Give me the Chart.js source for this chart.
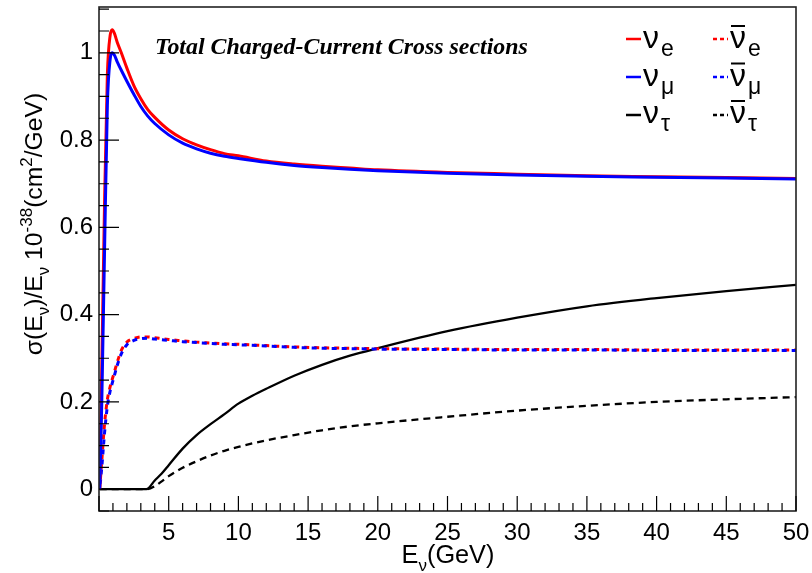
<!DOCTYPE html>
<html>
<head>
<meta charset="utf-8">
<script src="https://cdn.jsdelivr.net/npm/chart.js@4.4.0/dist/chart.umd.min.js"></script>
<style>
  body { margin: 0; background: #fff; }
  #wrap { width: 812px; height: 573px; }
</style>
</head>
<body>
<div id="wrap"><canvas id="xsec" width="812" height="573"></canvas></div>
<script>
// energies (GeV) for the e / mu curves
var energyLight = [0.05, 0.2, 0.4, 0.6, 0.8, 0.95, 1.1, 1.3, 1.6, 2, 2.5, 3, 3.5, 4, 5, 6, 7, 8, 9, 10, 12, 14, 16, 18, 20, 25, 30, 35, 40, 45, 50];
var nueXs     = [0, 0.28, 0.66, 0.95, 1.04, 1.053, 1.045, 1.025, 1.0, 0.965, 0.925, 0.895, 0.87, 0.852, 0.823, 0.803, 0.789, 0.778, 0.769, 0.764, 0.752, 0.745, 0.740, 0.736, 0.732, 0.726, 0.722, 0.718, 0.716, 0.714, 0.712];
var numuXs    = [0, 0.2, 0.55, 0.88, 0.985, 1.0, 0.995, 0.98, 0.96, 0.935, 0.905, 0.877, 0.855, 0.838, 0.812, 0.793, 0.780, 0.770, 0.763, 0.758, 0.749, 0.742, 0.737, 0.733, 0.730, 0.724, 0.720, 0.717, 0.715, 0.713, 0.711];
var nuebarXs  = [0, 0.065, 0.15, 0.205, 0.235, 0.252, 0.268, 0.29, 0.318, 0.337, 0.345, 0.349, 0.349, 0.347, 0.343, 0.340, 0.337, 0.335, 0.333, 0.332, 0.329, 0.326, 0.324, 0.323, 0.322, 0.321, 0.320, 0.320, 0.319, 0.319, 0.319];
var numubarXs = [0, 0.05, 0.13, 0.19, 0.225, 0.243, 0.26, 0.283, 0.31, 0.331, 0.341, 0.345, 0.346, 0.344, 0.341, 0.338, 0.336, 0.334, 0.332, 0.331, 0.328, 0.325, 0.323, 0.322, 0.321, 0.320, 0.319, 0.319, 0.318, 0.318, 0.318];

// tau curves (threshold ~3.4 GeV)
var energyTau   = [0.05, 3.4, 4, 4.5, 5, 6, 7, 8, 9, 10, 11, 12, 14, 16, 18, 20, 25, 30, 35, 40, 45, 50];
var nutauXs     = [0, 0, 0.02, 0.036, 0.055, 0.093, 0.124, 0.149, 0.172, 0.196, 0.214, 0.23, 0.26, 0.285, 0.306, 0.323, 0.362, 0.393, 0.419, 0.438, 0.454, 0.468];
var nutaubarXs  = [0, 0, 0.007, 0.018, 0.03, 0.049, 0.064, 0.077, 0.088, 0.097, 0.105, 0.112, 0.124, 0.135, 0.144, 0.151, 0.166, 0.18, 0.191, 0.2, 0.206, 0.211];

var xTicks = [5, 10, 15, 20, 25, 30, 35, 40, 45, 50];
var yTicks = [0, 0.2, 0.4, 0.6, 0.8, 1];

var titleText = "Total Charged-Current Cross sections";
var legendItems = [
    { sub: "e", color: "#ff0000", bar: false, col: 0, row: 0 },
    { sub: "\u03bc", color: "#0000ff", bar: false, col: 0, row: 1 },
    { sub: "\u03c4", color: "#000000", bar: false, col: 0, row: 2 },
    { sub: "e", color: "#ff0000", bar: true, col: 1, row: 0 },
    { sub: "\u03bc", color: "#0000ff", bar: true, col: 1, row: 1 },
    { sub: "\u03c4", color: "#000000", bar: true, col: 1, row: 2 }
];

function pts(xs, ys) {
    let out = [];
    for (var i = 0; i < xs.length; i++) {
        out.push({ x: xs[i], y: ys[i] });
    }
    return out;
}

function line(data, color, width, dash, offset) {
    return {
        data: data,
        borderColor: color,
        borderWidth: width,
        borderDash: dash || [],
        borderDashOffset: offset || 0,
        pointRadius: 0,
        fill: false,
        cubicInterpolationMode: 'monotone',
    };
}

var FONT = "'Liberation Sans', Arial, sans-serif";

// text pieces with sub/superscripts, left aligned from x
function richWidth(ctx, parts, size) {
    let w = 0;
    parts.forEach(p => {
        ctx.font = (p[1] == 'n' ? size : Math.round(size * 0.68)) + "px " + FONT;
        w += ctx.measureText(p[0]).width;
    });
    return w;
}
function drawRich(ctx, parts, x, y, size) {
    parts.forEach(p => {
        let s = p[1] == 'n' ? size : Math.round(size * 0.68);
        let dy = p[1] == 'sub' ? size * 0.3 : (p[1] == 'sup' ? -size * 0.42 : 0);
        ctx.font = s + "px " + FONT;
        ctx.fillText(p[0], x, y + dy);
        x += ctx.measureText(p[0]).width;
    });
}
function fitSize(ctx, parts, base, target) {
    return base * target / richWidth(ctx, parts, base);
}

var decorPlugin = {
    id: 'decor',
    afterDatasetsDraw(chart) {
        const ctx = chart.ctx;
        const a = chart.chartArea;
        const xs = chart.scales.x, ys = chart.scales.y;
        ctx.save();
        ctx.strokeStyle = "#222";
        ctx.lineWidth = 1.6;
        ctx.strokeRect(a.left, a.top, a.right - a.left, a.bottom - a.top);

        // ROOT style ticks inside the frame
        ctx.strokeStyle = "#000";
        ctx.lineWidth = 1.2;
        ctx.beginPath();
        for (var v = 0; v <= 50.001; v += 1) {
            let px = xs.getPixelForValue(v);
            let len = (Math.round(v) % 5 == 0) ? 15 : 8;
            ctx.moveTo(px, a.bottom);
            ctx.lineTo(px, a.bottom - len);
        }
        for (var k = -1; k <= 22; k++) {
            let val = k * 0.05;
            if (val < ys.min || val > ys.max) continue;
            let py = ys.getPixelForValue(val);
            let len = (k % 4 == 0) ? 20 : 10;
            ctx.moveTo(a.left, py);
            ctx.lineTo(a.left + len, py);
        }
        ctx.stroke();

        // title
        ctx.fillStyle = "#000";
        ctx.textBaseline = "alphabetic";
        ctx.font = "italic bold 21px 'Liberation Serif', 'Times New Roman', serif";
        let tw = ctx.measureText(titleText).width;
        let fs = 21 * 373 / tw;
        ctx.font = "italic bold " + fs.toFixed(1) + "px 'Liberation Serif', 'Times New Roman', serif";
        ctx.fillText(titleText, 155, 54);

        // legend
        legendItems.forEach(it => {
            let x0 = it.col == 0 ? 626 : 713;
            let yl = 39 + it.row * 38;
            let yb = 48 + it.row * 37.5;
            ctx.strokeStyle = it.color;
            ctx.lineWidth = 2.5;
            ctx.setLineDash(it.bar ? [4, 3] : []);
            ctx.beginPath();
            ctx.moveTo(x0, yl);
            ctx.lineTo(x0 + 15, yl);
            ctx.stroke();
            ctx.setLineDash([]);
            ctx.fillStyle = "#000";
            ctx.font = "32px " + FONT;
            let nx = x0 + 17;
            ctx.fillText("\u03bd", nx, yb);
            let nw = ctx.measureText("\u03bd").width;
            if (it.bar) {
                ctx.strokeStyle = "#000";
                ctx.lineWidth = 2;
                ctx.beginPath();
                ctx.moveTo(nx + 1, yb - 22);
                ctx.lineTo(nx + nw - 1, yb - 22);
                ctx.stroke();
            }
            ctx.font = "23px " + FONT;
            ctx.fillText(it.sub, nx + nw + 2, yb + 8);
        });

        // y axis title (rotated)
        let yParts = [["\u03c3(E", 'n'], ["\u03bd", 'sub'], [")/E", 'n'], ["\u03bd", 'sub'], [" 10", 'n'], ["-38", 'sup'], ["(cm", 'n'], ["2", 'sup'], ["/GeV)", 'n']];
        ctx.save();
        ctx.translate(42, 224);
        ctx.rotate(-Math.PI / 2);
        let ysz = fitSize(ctx, yParts, 22, 262);
        let yw = richWidth(ctx, yParts, ysz);
        drawRich(ctx, yParts, -yw / 2, 0, ysz);
        ctx.restore();

        // x axis title
        let xParts = [["E", 'n'], ["\u03bd", 'sub'], ["(GeV)", 'n']];
        let xsz = fitSize(ctx, xParts, 22, 93);
        let xw = richWidth(ctx, xParts, xsz);
        drawRich(ctx, xParts, 448 - xw / 2, 563, xsz);
        ctx.restore();
    }
};

var ctx = document.getElementById("xsec").getContext("2d");
var chart = new Chart(ctx, {
    type: 'line',
    data: {
        datasets: [
            line(pts(energyLight, numuXs), "#0000ff", 3),
            line(pts(energyLight, nueXs), "#ff0000", 3),
            line(pts(energyLight, numubarXs), "#0000ff", 3, [5, 5], 5),
            line(pts(energyLight, nuebarXs), "#ff0000", 3, [5, 5], 0),
            line(pts(energyTau, nutauXs), "#000000", 2.3),
            line(pts(energyTau, nutaubarXs), "#000000", 2.3, [7, 5]),
        ],
    },
    options: {
        responsive: false,
        animation: false,
        layout: { padding: { left: 0, right: 16, top: 7, bottom: 0 } },
        plugins: {
            legend: { display: false },
            tooltip: { enabled: false },
        },
        scales: {
            x: {
                type: 'linear',
                min: 0,
                max: 50,
                grid: { display: false, drawTicks: false },
                border: { display: false },
                afterBuildTicks: s => { s.ticks = xTicks.map(v => ({ value: v })); },
                afterFit: s => { s.height = 62; s.paddingLeft = 0; s.paddingRight = 0; },
                ticks: {
                    autoSkip: false,
                    maxRotation: 0,
                    padding: 8,
                    color: "#000",
                    font: { family: FONT, size: 24 },
                },
            },
            y: {
                type: 'linear',
                min: -0.05,
                max: 1.105,
                grid: { display: false, drawTicks: false },
                border: { display: false },
                afterBuildTicks: s => { s.ticks = yTicks.map(v => ({ value: v })); },
                afterFit: s => { s.width = 99; s.paddingTop = 0; s.paddingBottom = 0; },
                ticks: {
                    padding: 6,
                    color: "#000",
                    font: { family: FONT, size: 24 },
                    callback: v => String(v),
                },
            },
        },
    },
    plugins: [decorPlugin],
});
</script>
</body>
</html>
